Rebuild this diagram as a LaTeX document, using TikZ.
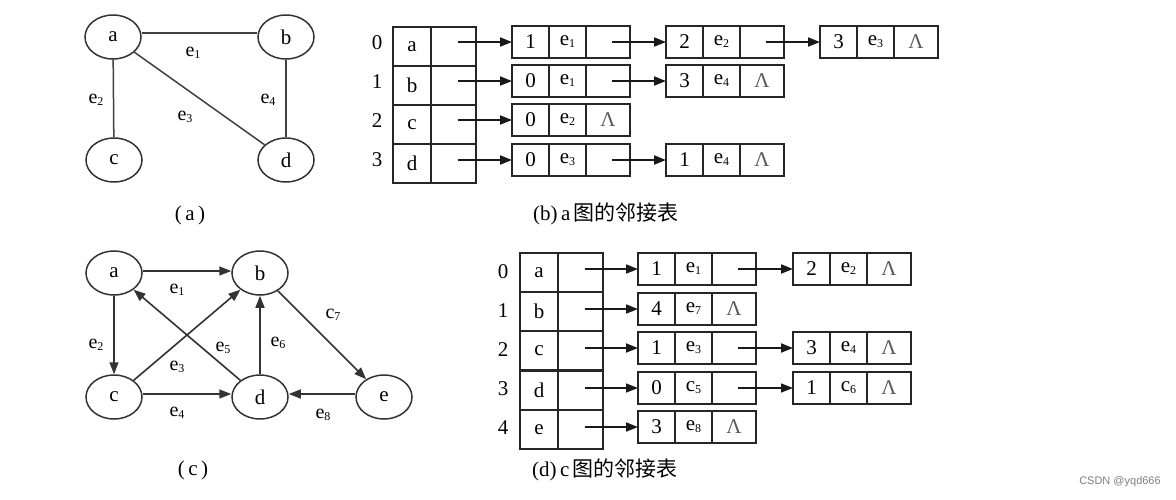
\documentclass[tikz,border=0pt]{standalone}
\usepackage{fontspec}
\setmainfont{Liberation Serif}
\newfontfamily\cjk{Noto Sans CJK SC}
\newfontfamily\wmfont{Liberation Sans}
\usetikzlibrary{shapes.geometric,arrows.meta}
\newcommand\fsz[1]{\fontsize{#1}{#1}\selectfont}
\newcommand\es[2]{#1\raisebox{-2pt}{\fsz{12}#2}}
\newcommand\nullsym{\textcolor{black!65}{Λ}}
\tikzset{
  vtx/.style={draw=black!80, line width=1.5pt, ellipse, minimum width=56pt, minimum height=44pt, inner sep=0pt, font=\fsz{21}},
  lbl/.style={inner sep=0pt, font=\fsz{20}},
  idx/.style={inner sep=0pt, font=\fsz{21}},
  captxt/.style={inner sep=0pt, font=\fsz{21}},
  cell/.style={draw=black!85, line width=1.8pt, rectangle, inner sep=0pt, outer sep=0pt, font=\fsz{21}, anchor=north west},
  arr/.style={-{Triangle[length=12pt,width=9pt]}, line width=1.8pt, draw=black!90},
  gedge/.style={line width=1.5pt, draw=black!75},
  garr/.style={-{Triangle[length=12pt,width=9pt]}, line width=1.6pt, draw=black!80},
}
% #1 name, #2 x, #3 ytop, #4 #5 #6 contents
\newcommand\mkbox[6]{%
  \node[cell, minimum width=37pt, minimum height=32pt] (#11) at (#2,#3) {#4};
  \node[cell, minimum width=37pt, minimum height=32pt] (#12) at (#11.north east) {#5};
  \node[cell, minimum width=44pt, minimum height=32pt] (#13) at (#12.north east) {#6};
}
% #1 name, #2 x, #3 ytop, #4 letter
\newcommand\mkhead[4]{%
  \node[cell, minimum width=38pt, minimum height=39pt] (#1a) at (#2,#3) {#4};
  \node[cell, minimum width=45pt, minimum height=39pt] (#1p) at (#1a.north east) {};
}
\begin{document}
\begin{tikzpicture}[x=1pt,y=-1pt]
\useasboundingbox[fill=white] (0,0) rectangle (1176,499);

% ---------- graph (a) ----------
\node[vtx] (ga) at (113,37) {a};
\node[vtx] (gb) at (286,37) {b};
\node[vtx] (gc) at (114,160) {c};
\node[vtx] (gd) at (286,160) {d};
\draw[gedge] ([yshift=4pt]ga.east) -- ([yshift=4pt]gb.west);
\draw[gedge] (ga) -- (gc);
\draw[gedge] (ga) -- (gd);
\draw[gedge] (gb) -- (gd);
\node[lbl] (la1) at (193,53) {\es{e}{1}};
\node[lbl] (la2) at (96,100) {\es{e}{2}};
\node[lbl] (la3) at (185,117) {\es{e}{3}};
\node[lbl] (la4) at (268,100) {\es{e}{4}};
\node[captxt] (capa) at (190,215) {(\,a\,)};

% ---------- table (b) ----------
\node[idx] (ib0) at (377,43) {0};
\node[idx] (ib1) at (377,82) {1};
\node[idx] (ib2) at (377,121) {2};
\node[idx] (ib3) at (377,160) {3};
\mkhead{hb0}{393}{27}{a}
\mkhead{hb1}{393}{66}{b}
\mkhead{hb2}{393}{105}{c}
\mkhead{hb3}{393}{144}{d}
\mkbox{bxa}{512}{26}{1}{\es{e}{1}}{}
\mkbox{bxb}{666}{26}{2}{\es{e}{2}}{}
\mkbox{bxc}{820}{26}{3}{\es{e}{3}}{\nullsym}
\mkbox{bxd}{512}{65}{0}{\es{e}{1}}{}
\mkbox{bxe}{666}{65}{3}{\es{e}{4}}{\nullsym}
\mkbox{bxf}{512}{104}{0}{\es{e}{2}}{\nullsym}
\mkbox{bxg}{512}{144}{0}{\es{e}{3}}{}
\mkbox{bxh}{666}{144}{1}{\es{e}{4}}{\nullsym}
\draw[arr] ([xshift=4pt]hb0p.center |- bxa1.west) -- (bxa1.west);
\draw[arr] ([xshift=4pt]bxa3.center) -- (bxb1.west);
\draw[arr] ([xshift=4pt]bxb3.center) -- (bxc1.west);
\draw[arr] ([xshift=4pt]hb1p.center |- bxd1.west) -- (bxd1.west);
\draw[arr] ([xshift=4pt]bxd3.center) -- (bxe1.west);
\draw[arr] ([xshift=4pt]hb2p.center |- bxf1.west) -- (bxf1.west);
\draw[arr, line width=2.2pt] ([xshift=4pt]hb3p.center |- bxg1.west) -- (bxg1.west);
\draw[arr, line width=2.2pt] ([xshift=4pt]bxg3.center) -- (bxh1.west);
\node[captxt] (capb) at (606,214) {(b)\,a\,{\cjk 图的邻接表}};

% ---------- graph (c) ----------
\node[vtx] (ca) at (114,273) {a};
\node[vtx] (cb) at (260,273) {b};
\node[vtx] (cc) at (114,397) {c};
\node[vtx] (cd) at (260,397) {d};
\node[vtx] (ce) at (384,397) {e};
\draw[garr] ([yshift=2pt]ca.east) -- ([yshift=2pt]cb.west);
\draw[garr] (ca) -- (cc);
\draw[garr] (cc) -- (cb);
\draw[garr] ([yshift=3pt]cc.east) -- ([yshift=3pt]cd.west);
\draw[garr] (cd) -- (ca);
\draw[garr] (cd) -- (cb);
\draw[garr] (cb) -- (ce);
\draw[garr] ([yshift=3pt]ce.west) -- ([yshift=3pt]cd.east);
\node[lbl] (lc1) at (177,290) {\es{e}{1}};
\node[lbl] (lc2) at (96,345) {\es{e}{2}};
\node[lbl] (lc3) at (177,367) {\es{e}{3}};
\node[lbl] (lc4) at (177,413) {\es{e}{4}};
\node[lbl] (lc5) at (223,348) {\es{e}{5}};
\node[lbl] (lc6) at (278,343) {\es{e}{6}};
\node[lbl] (lc7) at (333,315) {\es{c}{7}};
\node[lbl] (lc8) at (323,415) {\es{e}{8}};
\node[captxt] (capc) at (193,470) {(\,c\,)};

% ---------- table (d) ----------
\node[idx] (id0) at (503,272) {0};
\node[idx] (id1) at (503,311) {1};
\node[idx] (id2) at (503,350) {2};
\node[idx] (id3) at (503,389) {3};
\node[idx] (id4) at (503,428) {4};
\mkhead{hd0}{520}{253}{a}
\mkhead{hd1}{520}{292}{b}
\mkhead{hd2}{520}{331}{c}
\mkhead{hd3}{520}{371}{d}
\mkhead{hd4}{520}{410}{e}
\mkbox{dxa}{638}{253}{1}{\es{e}{1}}{}
\mkbox{dxb}{793}{253}{2}{\es{e}{2}}{\nullsym}
\mkbox{dxc}{638}{293}{4}{\es{e}{7}}{\nullsym}
\mkbox{dxd}{638}{332}{1}{\es{e}{3}}{}
\mkbox{dxe}{793}{332}{3}{\es{e}{4}}{\nullsym}
\mkbox{dxf}{638}{372}{0}{\es{c}{5}}{}
\mkbox{dxg}{793}{372}{1}{\es{c}{6}}{\nullsym}
\mkbox{dxh}{638}{411}{3}{\es{e}{8}}{\nullsym}
\draw[arr] ([xshift=4pt]hd0p.center |- dxa1.west) -- (dxa1.west);
\draw[arr] ([xshift=4pt]dxa3.center) -- (dxb1.west);
\draw[arr] ([xshift=4pt]hd1p.center |- dxc1.west) -- (dxc1.west);
\draw[arr] ([xshift=4pt]hd2p.center |- dxd1.west) -- (dxd1.west);
\draw[arr] ([xshift=4pt]dxd3.center) -- (dxe1.west);
\draw[arr, line width=1.4pt] ([xshift=4pt]hd3p.center |- dxf1.west) -- (dxf1.west);
\draw[arr, line width=1.4pt] ([xshift=4pt]dxf3.center) -- (dxg1.west);
\draw[arr] ([xshift=4pt]hd4p.center |- dxh1.west) -- (dxh1.west);
\node[captxt] (capd) at (605,470) {(d)\,c\,{\cjk 图的邻接表}};

% ---------- watermark ----------
\node[inner sep=0pt, font=\wmfont\fsz{11}, text=black!50] (wm) at (1120,482) {CSDN @yqd666};
\end{tikzpicture}
\end{document}
